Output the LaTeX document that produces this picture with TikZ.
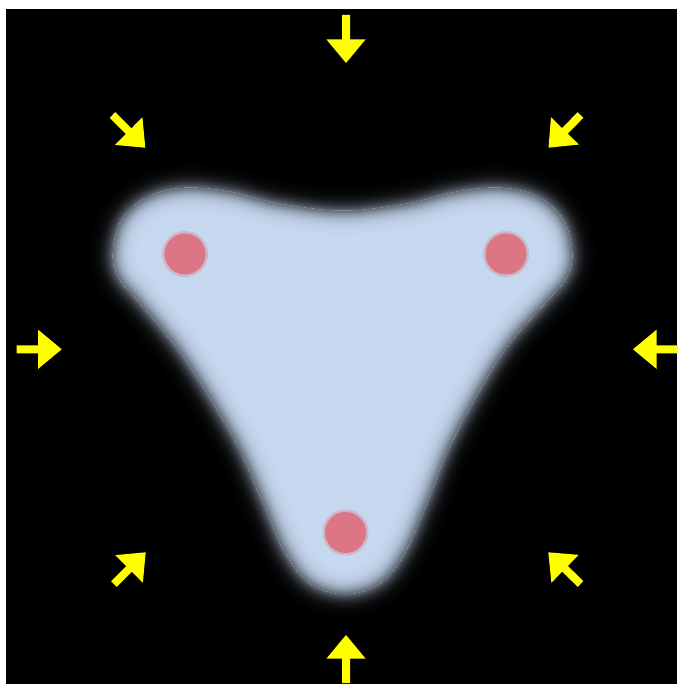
\documentclass[tikz,border=0pt]{standalone}
\usetikzlibrary{calc}
\definecolor{blobblue}{RGB}{198,216,240}
\definecolor{dotred}{RGB}{221,118,132}
\definecolor{arrowyellow}{RGB}{255,255,0}
\newcommand\blobshape{plot[smooth cycle, tension=0.6] coordinates {
 (113,253) (122,220) (148,197) (185,188) (230,192) (280,204) (343,211)
 (406,204) (456,192) (501,188) (538,197) (563,220) (572,253) (566,278)
 (545,303) (508,345) (475,398) (448,450) (428,500) (405,552) (380,583)
 (345,594) (310,583) (285,552) (262,500) (240,450) (210,398) (177,348)
 (140,303) (119,278)}}
\newcommand\yarrow[2]{%
 \coordinate (T) at (#1);
 \coordinate (H) at (#2);
 \coordinate (B) at ($(H)!23.5pt!(T)$);
 \fill[arrowfill] ($(T)!4pt!90:(H)$) -- ($(B)!4pt!-90:(T)$) -- ($(B)!19.5pt!-90:(T)$)
   -- (H) -- ($(B)!19.5pt!90:(T)$) -- ($(B)!4pt!90:(T)$) -- ($(T)!4pt!-90:(H)$) -- cycle;
}
\tikzset{arrowfill/.style={fill=arrowyellow}, dotfill/.style={fill=dotred}}
\begin{document}
\begin{tikzpicture}[x=1pt,y=-1pt]
\useasboundingbox (0,0) rectangle (677,684);
\fill[white] (0,0) rectangle (677,684);
\fill[black] (6,9) rectangle (677,684);
% outer glow of the blob
\foreach \r in {24,23.5,...,0.5} {
  \pgfmathsetmacro\f{100/(1+exp((\r-0.25)/5))}
  \draw[line width=2*\r pt, draw=blobblue!\f!black, line join=round] \blobshape;
}
% inner part with soft edge
\begin{scope}
  \clip \blobshape;
  \fill[blobblue] \blobshape;
  \foreach \r in {24,23.5,...,0.5} {
    \pgfmathsetmacro\f{100-100/(1+exp((\r-0.25)/5))}
    \draw[line width=2*\r pt, draw=blobblue!\f!black, line join=round] \blobshape;
  }
\end{scope}
% red dots
\foreach \n/\p in {dl/{185,254}, dr/{506,254}, db/{345.5,532.5}} {
  \fill[dotred!35!blobblue] (\p) circle[radius=23];
  \fill[dotfill] (\p) circle[radius=20.5];
}
% yellow arrows
\yarrow{346,15}{346,63}
\yarrow{346,683}{346,635}
\yarrow{16.7,349.3}{61.7,349.3}
\yarrow{681,349.3}{633,349.3}
\yarrow{112.5,115}{145.3,147.7}
\yarrow{580.5,115}{548.5,147.7}
\yarrow{114,584}{145.7,552.3}
\yarrow{580.5,584}{548.3,552.3}
\end{tikzpicture}
\end{document}
